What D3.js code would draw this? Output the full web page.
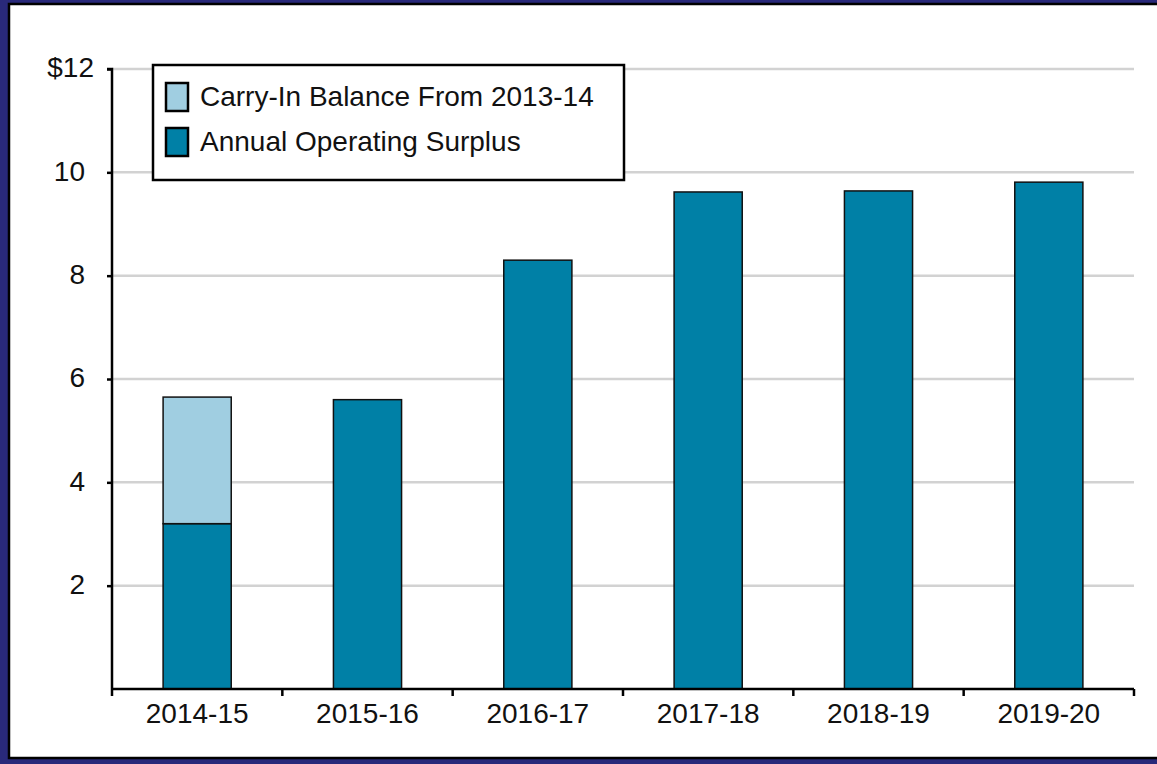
<!DOCTYPE html>
<html>
<head>
<meta charset="utf-8">
<script src="https://cdn.jsdelivr.net/npm/d3@7"></script>
<style>
  html, body { margin: 0; padding: 0; background: #29297a; }
  svg { display: block; }
  text { font-family: "Liberation Sans", Arial, Helvetica, sans-serif; fill: #111; }
</style>
</head>
<body>
<svg id="chart" width="1157" height="764"></svg>
<script>
// Fiscal years along the x axis
const years = ["2014-15", "2015-16", "2016-17", "2017-18", "2018-19", "2019-20"];
// Annual operating surplus (billions)
const operatingSurplus = [3.2, 5.6, 8.3, 9.62, 9.64, 9.81];
// Balance carried in from 2013-14 (only applies to the first year)
const carryIn = [2.45, 0, 0, 0, 0, 0];
// Y-axis tick values and labels
const yTicks = [2, 4, 6, 8, 10, 12];
const yTickLabels = ["2", "4", "6", "8", "10", "$12"];
const seriesNames = ["Carry-In Balance From 2013-14", "Annual Operating Surplus"];

const colors = { surplus: "#0080a6", carry: "#a0cee1" };
const FONT = 28;

const svg = d3.select("#chart");
const W = 1157, H = 764;

// Frame: navy surround, black rule, white panel
svg.append("rect").attr("x", 0).attr("y", 0).attr("width", W).attr("height", H).attr("fill", "#29297a");
svg.append("rect").attr("x", 9).attr("y", 4).attr("width", W + 10).attr("height", 754)
  .attr("fill", "#fff").attr("stroke", "#000").attr("stroke-width", 2.5);

const margin = { left: 112, right: 1134, top: 69, bottom: 689 };

const x = d3.scaleBand().domain(years).range([margin.left, margin.right]).paddingInner(0.6).paddingOuter(0.3);
const y = d3.scaleLinear().domain([0, 12]).range([margin.bottom, margin.top]);

// Gridlines
svg.append("g").selectAll("line").data(yTicks).join("line")
  .attr("x1", margin.left).attr("x2", margin.right)
  .attr("y1", d => y(d)).attr("y2", d => y(d))
  .attr("stroke", "#d2d2d2").attr("stroke-width", 2.5);

// Stacked bars
const rows = years.map((yr, i) => ({ year: yr, surplus: operatingSurplus[i], carry: carryIn[i] }));
const stack = d3.stack().keys(["surplus", "carry"])(rows);

svg.append("g").selectAll("g").data(stack).join("g")
  .attr("fill", d => colors[d.key])
  .selectAll("rect").data(d => d.filter(p => p[1] - p[0] > 0)).join("rect")
  .attr("x", d => x(d.data.year))
  .attr("width", x.bandwidth())
  .attr("y", d => y(d[1]))
  .attr("height", d => y(d[0]) - y(d[1]))
  .attr("stroke", "#111").attr("stroke-width", 1.5);

// Y axis
const yAxis = d3.axisLeft(y).tickValues(yTicks).tickSize(5).tickPadding(22)
  .tickFormat((d, i) => yTickLabels[i]);
const gy = svg.append("g").attr("transform", `translate(${margin.left},0)`).call(yAxis);
gy.select(".domain").attr("d", `M-5,${y(12)}H0V${y(0)}`).attr("stroke", "#000").attr("stroke-width", 2.5);
gy.selectAll(".tick line").attr("stroke", "#000").attr("stroke-width", 2.5);
gy.selectAll(".tick text").attr("font-size", FONT).attr("font-family", "Liberation Sans, Arial, sans-serif")
  .attr("fill", "#111").attr("dy", "0.28em")
  .attr("x", d => d === 12 ? -18 : -27);

// X axis: ticks at category boundaries
const boundaries = years.map(d => x(d) - x.step() * x.paddingInner() / 2);
boundaries.push(margin.right);
const gx = svg.append("g").attr("transform", `translate(0,${margin.bottom})`);
gx.append("line").attr("x1", margin.left).attr("x2", margin.right).attr("y1", 0).attr("y2", 0)
  .attr("stroke", "#000").attr("stroke-width", 2.5);
gx.selectAll("line.tk").data(boundaries).join("line").attr("class", "tk")
  .attr("x1", d => d).attr("x2", d => d).attr("y1", 0).attr("y2", 7)
  .attr("stroke", "#000").attr("stroke-width", 2.5);
gx.selectAll("text").data(years).join("text")
  .attr("x", d => x(d) + x.bandwidth() / 2).attr("y", 34)
  .attr("text-anchor", "middle").attr("font-size", FONT).text(d => d);

// Legend
const lg = svg.append("g").attr("transform", "translate(153,65)");
lg.append("rect").attr("width", 471).attr("height", 115).attr("fill", "#fff")
  .attr("stroke", "#000").attr("stroke-width", 2.5);
const legendColors = [colors.carry, colors.surplus];
seriesNames.forEach((name, i) => {
  const row = lg.append("g").attr("transform", `translate(0,${i * 45})`);
  row.append("rect").attr("x", 13).attr("y", 18).attr("width", 22).attr("height", 28)
    .attr("fill", legendColors[i]).attr("stroke", "#000").attr("stroke-width", 2.5);
  row.append("text").attr("x", 47).attr("y", 41).attr("font-size", FONT).text(name);
});
</script>
</body>
</html>
